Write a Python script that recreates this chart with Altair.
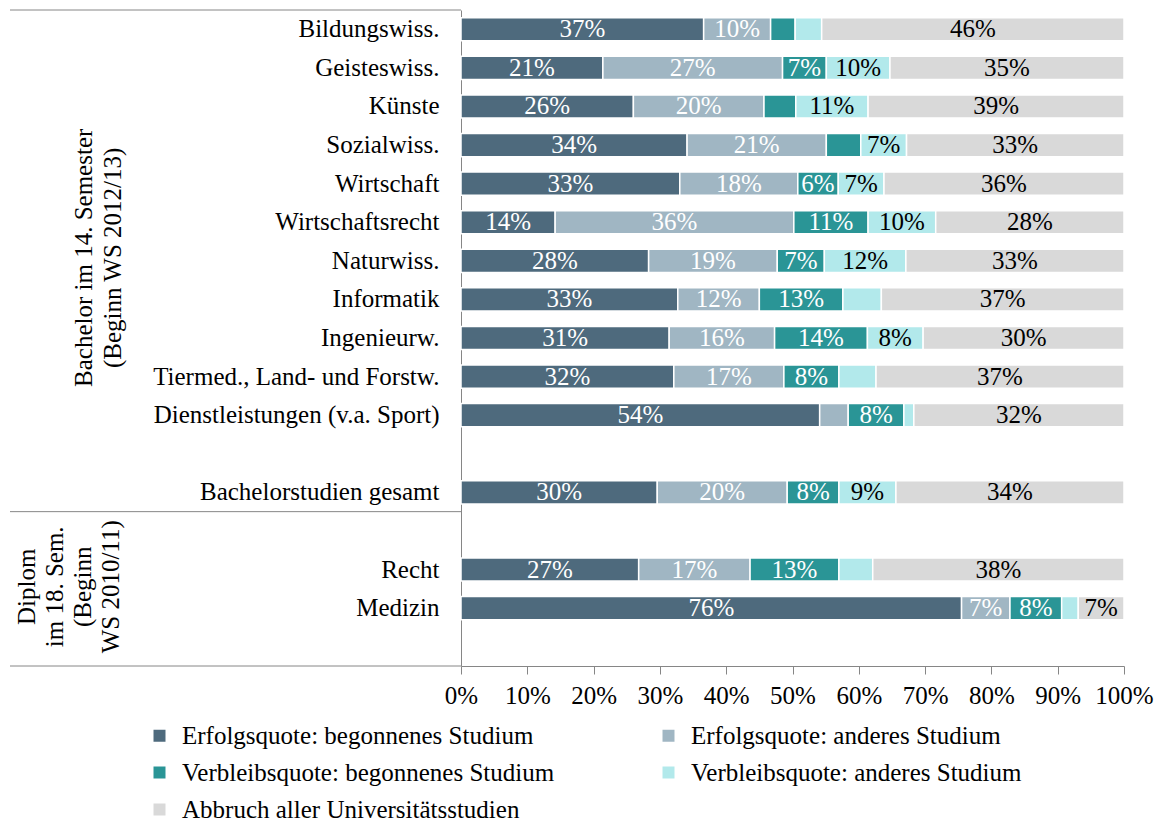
import altair as alt
import pandas as pd

# ---- data ----
categories = ["Bildungswiss.", "Geisteswiss.", "Künste", "Sozialwiss.", "Wirtschaft",
              "Wirtschaftsrecht", "Naturwiss.", "Informatik", "Ingenieurw.",
              "Tiermed., Land- und Forstw.", "Dienstleistungen (v.a. Sport)", " ",
              "Bachelorstudien gesamt", "  ", "Recht", "Medizin", "   "]

series = ["Erfolgsquote: begonnenes Studium", "Erfolgsquote: anderes Studium",
          "Verbleibsquote: begonnenes Studium", "Verbleibsquote: anderes Studium",
          "Abbruch aller Universitätsstudien"]

colors = ["#4E6A7D", "#A0B6C3", "#2A9596", "#B2E9EB", "#D9D9D9"]

erfolg_begonnen  = [36.6, 21.4, 26.0, 34.1, 33.0, 14.2, 28.3, 32.7, 31.4, 32.1, 54.1, None, 29.6, None, 26.8, 75.5, None]
erfolg_anderes   = [10.1, 27.1, 19.7, 21.0, 17.8, 36.0, 19.4, 12.3, 15.9, 16.6, 4.3, None, 19.6, None, 16.8, 7.3, None]
verbleib_begonnen = [3.7, 6.6, 4.8, 5.2, 6.1, 11.2, 7.1, 12.6, 14.0, 8.3, 8.4, None, 7.8, None, 13.4, 7.8, None]
verbleib_anderes = [4.0, 9.6, 10.9, 6.9, 6.9, 10.2, 12.3, 5.8, 8.4, 5.6, 1.5, None, 8.6, None, 5.1, 2.5, None]
abbruch          = [45.6, 35.3, 38.6, 32.8, 36.2, 28.4, 32.9, 36.6, 30.3, 37.4, 31.7, None, 34.4, None, 37.9, 6.9, None]

tick_values = [0, 10, 20, 30, 40, 50, 60, 70, 80, 90, 100]

group_bachelor = ["Bachelor im 14. Semester", "(Beginn WS 2012/13)"]
group_diplom = ["Diplom", "im 18. Sem.", "(Beginn", "WS 2010/11)"]

# ---- long table ----
rows = []
for si, vals in enumerate([erfolg_begonnen, erfolg_anderes, verbleib_begonnen, verbleib_anderes, abbruch]):
    for cat, v in zip(categories, vals):
        if v is not None:
            rows.append({"cat": cat, "series": series[si], "si": si, "value": v})
df = pd.DataFrame(rows)

FONT = "Liberation Serif"
FS = 25
W = 663
H = 656
n_rows = len(categories)
step = H / n_rows
AXIS_GRAY = "#868686"

base = alt.Chart(df).transform_stack(
    stack="value", as_=["x0", "x1"], groupby=["cat"], sort=[alt.SortField("si", order="ascending")]
)

y_enc = alt.Y("cat:N", sort=categories,
              scale=alt.Scale(domain=categories, paddingInner=0.4, paddingOuter=0.2),
              axis=alt.Axis(title=None, ticks=False, labelPadding=22, labelFont=FONT,
                            labelFontSize=FS, labelColor="black", labelLimit=500,
                            domainColor=AXIS_GRAY))

x_enc = alt.X("x0:Q", scale=alt.Scale(domain=[0, 100], nice=False),
              axis=alt.Axis(title=None, values=tick_values, labelExpr="datum.value + '%'",
                            grid=False, tickSize=8, labelPadding=9, labelFont=FONT,
                            labelFontSize=FS, labelColor="black", domainColor=AXIS_GRAY,
                            tickColor=AXIS_GRAY, labelOverlap=False, labelFlush=False))

bars = base.mark_bar(stroke="white", strokeWidth=1.5).encode(
    y=y_enc,
    x=x_enc,
    x2="x1:Q",
    color=alt.Color("series:N", sort=series,
                    scale=alt.Scale(domain=series, range=colors),
                    legend=alt.Legend(title=None, orient="none", legendX=-314, legendY=713,
                                      direction="horizontal", columns=2, columnPadding=101,
                                      rowPadding=11, symbolType="square", symbolSize=144,
                                      symbolStrokeWidth=0, labelFont=FONT, labelFontSize=FS,
                                      labelColor="black", labelLimit=500, labelOffset=10,
                                      padding=0)),
    order=alt.Order("si:Q", sort="ascending"),
)

labels = base.transform_filter("datum.value >= 6").transform_calculate(
    mid="(datum.x0 + datum.x1) / 2",
    label="round(datum.value) + '%'",
).mark_text(font=FONT, fontSize=FS, baseline="middle", align="center").encode(
    y=alt.Y("cat:N", sort=categories),
    x=alt.X("mid:Q"),
    text="label:N",
    color=alt.condition("datum.si < 3", alt.value("white"), alt.value("black")),
)

one = pd.DataFrame({"a": [0]})

def sep(ypix):
    return alt.Chart(one).mark_rule(color=AXIS_GRAY, strokeWidth=1).encode(
        x=alt.value(-451), x2=alt.value(0), y=alt.value(ypix))

seps = [sep(0), sep(13 * step), sep(H)]

g1 = alt.Chart(one).mark_text(text=group_bachelor, angle=270, font=FONT, fontSize=FS,
                              align="center", baseline="middle", lineHeight=29,
                              color="black").encode(
    x=alt.value(-377), y=alt.value(6.5 * step - 3))
g2 = alt.Chart(one).mark_text(text=group_diplom, angle=270, font=FONT, fontSize=FS,
                              align="center", baseline="middle", lineHeight=28,
                              color="black").encode(
    x=alt.value(-434), y=alt.value(15 * step - 2))

chart = alt.layer(bars, labels, *seps, g1, g2).properties(
    width=W, height=H,
    autosize=alt.AutoSizeParams(type="none"),
    padding={"left": 453, "top": 2, "right": 30, "bottom": 165},
).configure_view(stroke=None).configure_axis(labelFont=FONT)

chart.save("out.html", embed_options={"renderer": "svg", "actions": False})
